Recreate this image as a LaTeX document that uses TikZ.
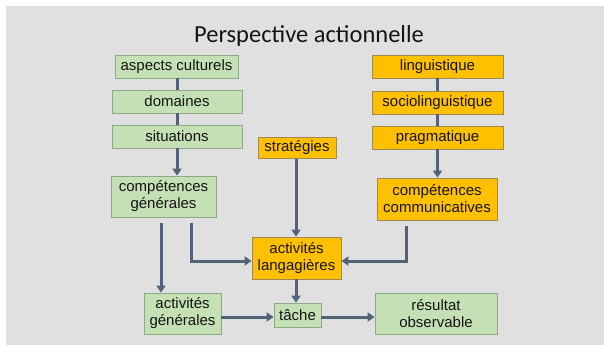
\documentclass[tikz,border=0pt]{standalone}
\usepackage{fontspec}
\setmainfont{Liberation Sans}
\newfontfamily\titlefont{Carlito}
\usetikzlibrary{arrows.meta}
\definecolor{bggray}{HTML}{E0E0E0}
\definecolor{gfill}{HTML}{C5E0B4}
\definecolor{gborder}{HTML}{8FA888}
\definecolor{yfill}{HTML}{FFC000}
\definecolor{yborder}{HTML}{A08850}
\definecolor{arrowc}{HTML}{526279}
\definecolor{txt}{HTML}{141414}
\tikzset{
  gbox/.style={draw=gborder, fill=gfill, line width=0.8pt, inner sep=0pt, align=center,
    text=txt, font=\fontsize{15}{17}\selectfont},
  ybox/.style={draw=yborder, fill=yfill, line width=0.8pt, inner sep=0pt, align=center,
    text=txt, font=\fontsize{15}{17}\selectfont},
  conn/.style={draw=arrowc, line width=3pt},
  arr/.style={conn, -{Triangle[width=9pt,length=7pt]}},
}
\begin{document}
\begin{tikzpicture}[x=1pt,y=-1pt]
\useasboundingbox (0,0) rectangle (604,347);
\fill[white] (0,0) rectangle (604,347);
\fill[bggray] (6,6) rectangle (604,345);
\node[anchor=base, font=\titlefont\fontsize{24.5}{28}\selectfont, text=txt] (title) at (309,43) {Perspective actionnelle};
% left column
\node[gbox, minimum width=123pt, minimum height=23pt] (ac) at (176.5,66.5) {aspects culturels};
\node[gbox, minimum width=130pt, minimum height=23pt] (dom) at (177,101.5) {domaines};
\node[gbox, minimum width=130pt, minimum height=23pt] (sit) at (177,136.5) {situations};
\node[gbox, minimum width=105pt, minimum height=41pt] (cg) at (163.5,196.5) {compétences\\générales};
% right column
\node[ybox, minimum width=131pt, minimum height=23pt] (ling) at (437.5,66.5) {linguistique};
\node[ybox, minimum width=131pt, minimum height=23pt] (soc) at (437.5,102.5) {sociolinguistique};
\node[ybox, minimum width=131pt, minimum height=23pt] (prag) at (437.5,137.5) {pragmatique};
\node[ybox, minimum width=120pt, minimum height=42pt] (cc) at (437,199) {compétences\\communicatives};
% middle
\node[ybox, minimum width=78pt, minimum height=21pt] (strat) at (297,148) {stratégies};
\node[ybox, minimum width=89pt, minimum height=42pt] (al) at (296.5,258) {activités\\langagières};
% bottom
\node[gbox, minimum width=77pt, minimum height=41pt] (ag) at (182.5,313.5) {activités\\générales};
\node[gbox, minimum width=47pt, minimum height=24pt] (tache) at (297.5,315) {tâche};
\node[gbox, minimum width=122pt, minimum height=41pt] (res) at (436,313.5) {résultat\\observable};
% coordinates
\coordinate (cgA) at (161,223);
\coordinate (cgB) at (191,223);
\coordinate (cgBc) at (191,261);
\coordinate (ccA) at (406,226);
\coordinate (ccAc) at (406,261);
\coordinate (alW) at (al.west |- 0,261);
\coordinate (alE) at (al.east |- 0,261);
% connectors
\draw[conn] (ac.south -| 177,0) -- (dom.north -| 177,0);
\draw[conn] (dom.south -| 177,0) -- (sit.north -| 177,0);
\draw[arr] (sit.south -| 177,0) -- (cg.north -| 177,0);
\draw[conn] (ling.south) -- (soc.north);
\draw[conn] (soc.south) -- (prag.north);
\draw[arr] (prag.south) -- (cc.north -| prag.south);
\draw[arr] (cgA) -- (ag.north -| cgA);
\draw[arr] (cgB) -- (cgBc) -- (alW);
\draw[arr] (ccA) -- (ccAc) -- (alE);
\draw[arr] (strat.south -| 296,0) -- (al.north -| 296,0);
\draw[arr] (al.south -| 296,0) -- (tache.north -| 296,0);
\draw[arr] (ag.east |- 0,317) -- (tache.west |- 0,317);
\draw[arr] (tache.east |- 0,317) -- (res.west |- 0,317);
\end{tikzpicture}
\end{document}
